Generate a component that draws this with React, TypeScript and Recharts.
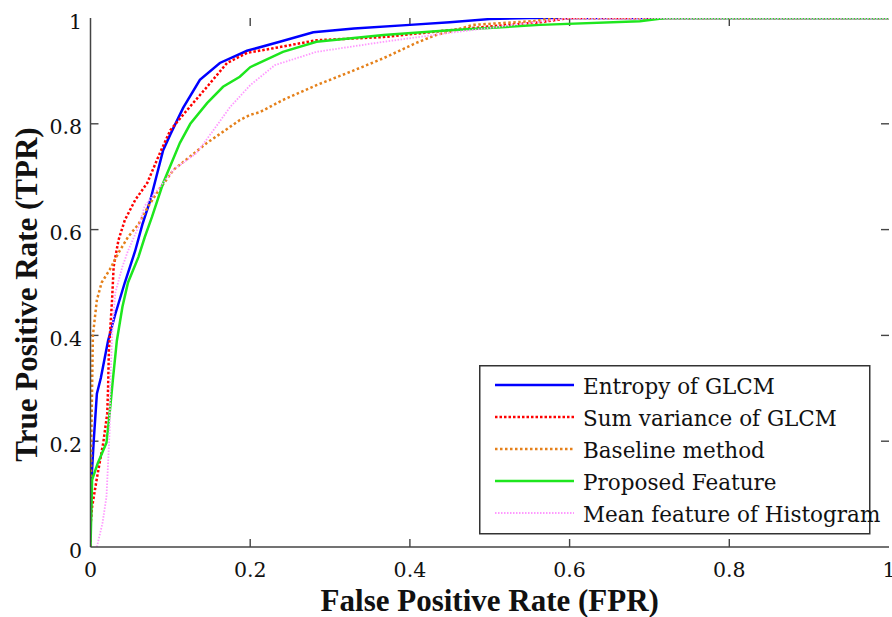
import React from 'react';
import { LineChart, Line, XAxis, YAxis, Legend, ReferenceLine } from 'recharts';

// ROC curves: false positive rate (x) against true positive rate (y)
const entropyFpr = [0, 0.001, 0.004, 0.008, 0.013, 0.022, 0.031, 0.043, 0.056, 0.065, 0.075, 0.091, 0.1, 0.116, 0.137, 0.162, 0.196, 0.237, 0.279, 0.33, 0.4, 0.45, 0.5, 0.55, 1];
const entropyTpr = [0.02, 0.12, 0.2, 0.29, 0.32, 0.39, 0.44, 0.5, 0.56, 0.61, 0.656, 0.75, 0.78, 0.83, 0.883, 0.915, 0.938, 0.955, 0.973, 0.98, 0.987, 0.992, 0.998, 1, 1];

const sumVarFpr = [0, 0.002, 0.008, 0.016, 0.021, 0.022, 0.023, 0.027, 0.029, 0.035, 0.043, 0.056, 0.071, 0.087, 0.1, 0.121, 0.146, 0.171, 0.196, 0.237, 0.283, 0.367, 0.45, 0.5, 0.563, 0.6, 1];
const sumVarTpr = [0.04, 0.076, 0.13, 0.197, 0.253, 0.3, 0.37, 0.467, 0.53, 0.58, 0.618, 0.656, 0.688, 0.745, 0.788, 0.826, 0.87, 0.915, 0.934, 0.945, 0.958, 0.964, 0.977, 0.984, 0.992, 1, 1];

const baselineFpr = [0, 0.001, 0.002, 0.003, 0.008, 0.014, 0.024, 0.035, 0.047, 0.06, 0.072, 0.083, 0.104, 0.146, 0.187, 0.2, 0.212, 0.241, 0.283, 0.325, 0.367, 0.408, 0.433, 0.45, 0.479, 0.554, 0.58, 1];
const baselineTpr = [0, 0.2, 0.3, 0.4, 0.467, 0.5, 0.524, 0.556, 0.586, 0.61, 0.643, 0.669, 0.713, 0.764, 0.807, 0.817, 0.822, 0.845, 0.873, 0.898, 0.924, 0.953, 0.968, 0.974, 0.987, 0.994, 1, 1];

const proposedFpr = [0, 0.002, 0.009, 0.02, 0.024, 0.028, 0.033, 0.04, 0.047, 0.06, 0.068, 0.077, 0.091, 0.112, 0.125, 0.146, 0.166, 0.187, 0.2, 0.241, 0.283, 0.367, 0.45, 0.563, 0.688, 0.72, 1];
const proposedTpr = [0, 0.127, 0.158, 0.197, 0.253, 0.316, 0.39, 0.454, 0.5, 0.548, 0.586, 0.624, 0.688, 0.764, 0.8, 0.839, 0.87, 0.889, 0.907, 0.936, 0.955, 0.968, 0.977, 0.987, 0.994, 1, 1];

const histMeanFpr = [0.008, 0.01, 0.015, 0.02, 0.022, 0.024, 0.025, 0.027, 0.031, 0.04, 0.047, 0.06, 0.068, 0.104, 0.133, 0.154, 0.175, 0.2, 0.231, 0.283, 0.367, 0.45, 0.52, 0.6, 1];
const histMeanTpr = [0, 0.013, 0.045, 0.095, 0.158, 0.22, 0.316, 0.4, 0.48, 0.53, 0.56, 0.605, 0.645, 0.713, 0.745, 0.788, 0.832, 0.873, 0.911, 0.936, 0.955, 0.972, 0.985, 1, 1];

const axisTicks = [0, 0.2, 0.4, 0.6, 0.8, 1];
const innerTicks = [0.2, 0.4, 0.6, 0.8];

const toPoints = (fpr: number[], tpr: number[]) => fpr.map((x, i) => ({ x, y: tpr[i] }));

const series = [
  { name: 'Entropy of GLCM', data: toPoints(entropyFpr, entropyTpr), color: '#0000ff', width: 2.5, dash: undefined as string | undefined },
  { name: 'Sum variance of GLCM', data: toPoints(sumVarFpr, sumVarTpr), color: '#ff0000', width: 2.5, dash: '2.5 2' },
  { name: 'Baseline method', data: toPoints(baselineFpr, baselineTpr), color: '#e5801a', width: 2.5, dash: '2.5 2.5' },
  { name: 'Proposed Feature', data: toPoints(proposedFpr, proposedTpr), color: '#1ee61e', width: 2.5, dash: undefined as string | undefined },
  { name: 'Mean feature of Histogram', data: toPoints(histMeanFpr, histMeanTpr), color: '#ff99ff', width: 1.8, dash: '1.5 1.5' },
];

const CHART_W = 884;
const CHART_H = 609;
const MARGIN = { top: 10, right: 3, bottom: 0, left: 0 };
const Y_AXIS_W = 82.5;
const X_AXIS_H = 70;
const PLOT_W = CHART_W - MARGIN.left - MARGIN.right - Y_AXIS_W;
const PLOT_H = CHART_H - MARGIN.top - MARGIN.bottom - X_AXIS_H;
// inward tick marks, 8px long, expressed in axis units
const TICK_PX = 8;
const tickDx = TICK_PX / PLOT_W;
const tickDy = TICK_PX / PLOT_H;

const tickFont = "'DejaVu Serif', serif";
const titleFont = "'Liberation Serif', 'Times New Roman', serif";
const axisColor = '#444';

const fmt = (v: number) => (v === 0 || v === 1 ? String(v) : v.toFixed(1));

const XTick = (props: any) => {
  const { x, y, payload } = props;
  return (
    <text x={x} y={y} textAnchor="middle" fontFamily={tickFont} fontSize={20.5} fill="#111">
      {fmt(payload.value)}
    </text>
  );
};

const YTick = (props: any) => {
  const { x, y, payload } = props;
  return (
    <text x={x} y={y + 10.5} textAnchor="end" fontFamily={tickFont} fontSize={20.5} fill="#111">
      {fmt(payload.value)}
    </text>
  );
};

// Full-span reference line drawn only as a short inward mark at its bottom end
const BottomMark = (props: any) => {
  const { x1, y1, y2 } = props;
  const yb = Math.max(Number(y1), Number(y2));
  return <path d={`M${x1},${yb}V${yb - TICK_PX}`} stroke={axisColor} strokeWidth={1.4} fill="none" />;
};

// Full-span reference line drawn only as a short inward mark at its left end
const LeftMark = (props: any) => {
  const { x1, x2, y1 } = props;
  const xl = Math.min(Number(x1), Number(x2));
  return <path d={`M${xl},${y1}H${xl + TICK_PX}`} stroke={axisColor} strokeWidth={1.4} fill="none" />;
};

const XTitle = (props: any) => {
  const vb = props.viewBox || {};
  return (
    <text x={vb.x + vb.width / 2} y={vb.y + 64} textAnchor="middle" fontFamily={titleFont} fontWeight="bold" fontSize={31} fill="#111">
      False Positive Rate (FPR)
    </text>
  );
};

const YTitle = (props: any) => {
  const vb = props.viewBox || {};
  const cx = 29;
  const cy = vb.y + vb.height / 2 + 12;
  return (
    <text x={cx} y={cy} transform={`rotate(-90, ${cx}, ${cy})`} textAnchor="middle" fontFamily={titleFont} fontWeight="bold" fontSize={31} fill="#111">
      True Positive Rate (TPR)
    </text>
  );
};

const LegendBox = () => (
  <svg width={392} height={170} style={{ overflow: 'visible', display: 'block' }}>
    <rect x={0.75} y={0.75} width={390} height={168} fill="#fff" stroke="#333" strokeWidth={1.5} />
    {series.map((s, i) => {
      const rowY = 20 + 32 * i;
      return (
        <g key={s.name}>
          <line x1={16} x2={95} y1={rowY} y2={rowY} stroke={s.color} strokeWidth={s.width} strokeDasharray={s.dash} />
          <text x={104} y={rowY + 9} fontFamily={tickFont} fontSize={21.5} fill="#111">
            {s.name}
          </text>
        </g>
      );
    })}
  </svg>
);

export default function App() {
  return (
    <div style={{ position: 'absolute', left: 8, top: 8, width: CHART_W, height: CHART_H }}>
      <LineChart width={CHART_W} height={CHART_H} margin={MARGIN}>
        <XAxis
          dataKey="x"
          type="number"
          domain={[0, 1]}
          ticks={axisTicks}
          interval={0}
          allowDataOverflow
          height={X_AXIS_H}
          tickSize={0}
          tickMargin={30}
          tickLine={false}
          tick={XTick}
          stroke={axisColor}
          strokeWidth={1.5}
          label={XTitle}
        />
        <XAxis
          xAxisId="top"
          orientation="top"
          type="number"
          domain={[0, 1]}
          ticks={axisTicks}
          height={0}
          tick={false}
          tickLine={false}
          stroke={axisColor}
          strokeWidth={1.5}
        />
        <YAxis
          type="number"
          domain={[0, 1]}
          ticks={axisTicks}
          interval={0}
          allowDataOverflow
          width={Y_AXIS_W}
          tickSize={0}
          tickMargin={8.5}
          tickLine={false}
          tick={YTick}
          stroke={axisColor}
          strokeWidth={1.5}
          label={YTitle}
        />
        <YAxis
          yAxisId="right"
          orientation="right"
          type="number"
          domain={[0, 1]}
          ticks={axisTicks}
          width={0}
          tick={false}
          tickLine={false}
          stroke={axisColor}
          strokeWidth={1.5}
        />
        {innerTicks.map((t) => (
          <ReferenceLine key={`t${t}`} segment={[{ x: t, y: 1 }, { x: t, y: 1 - tickDy }]} stroke={axisColor} strokeWidth={1.4} ifOverflow="visible" />
        ))}
        {innerTicks.map((t) => (
          <ReferenceLine key={`r${t}`} segment={[{ x: 1, y: t }, { x: 1 - tickDx, y: t }]} stroke={axisColor} strokeWidth={1.4} ifOverflow="visible" />
        ))}
        {innerTicks.map((t) => (
          <ReferenceLine key={`b${t}`} x={t} shape={BottomMark} ifOverflow="visible" />
        ))}
        {innerTicks.map((t) => (
          <ReferenceLine key={`l${t}`} y={t} shape={LeftMark} ifOverflow="visible" />
        ))}
        {series.map((s) => (
          <Line
            key={s.name}
            name={s.name}
            data={s.data}
            dataKey="y"
            type="linear"
            stroke={s.color}
            strokeWidth={s.width}
            strokeDasharray={s.dash}
            dot={false}
            activeDot={false}
            isAnimationActive={false}
          />
        ))}
        <Legend
          layout="horizontal"
          align="center"
          verticalAlign="middle"
          content={LegendBox}
          wrapperStyle={{ position: 'absolute', left: 471, top: 357, width: 392, height: 170 }}
        />
      </LineChart>
    </div>
  );
}
